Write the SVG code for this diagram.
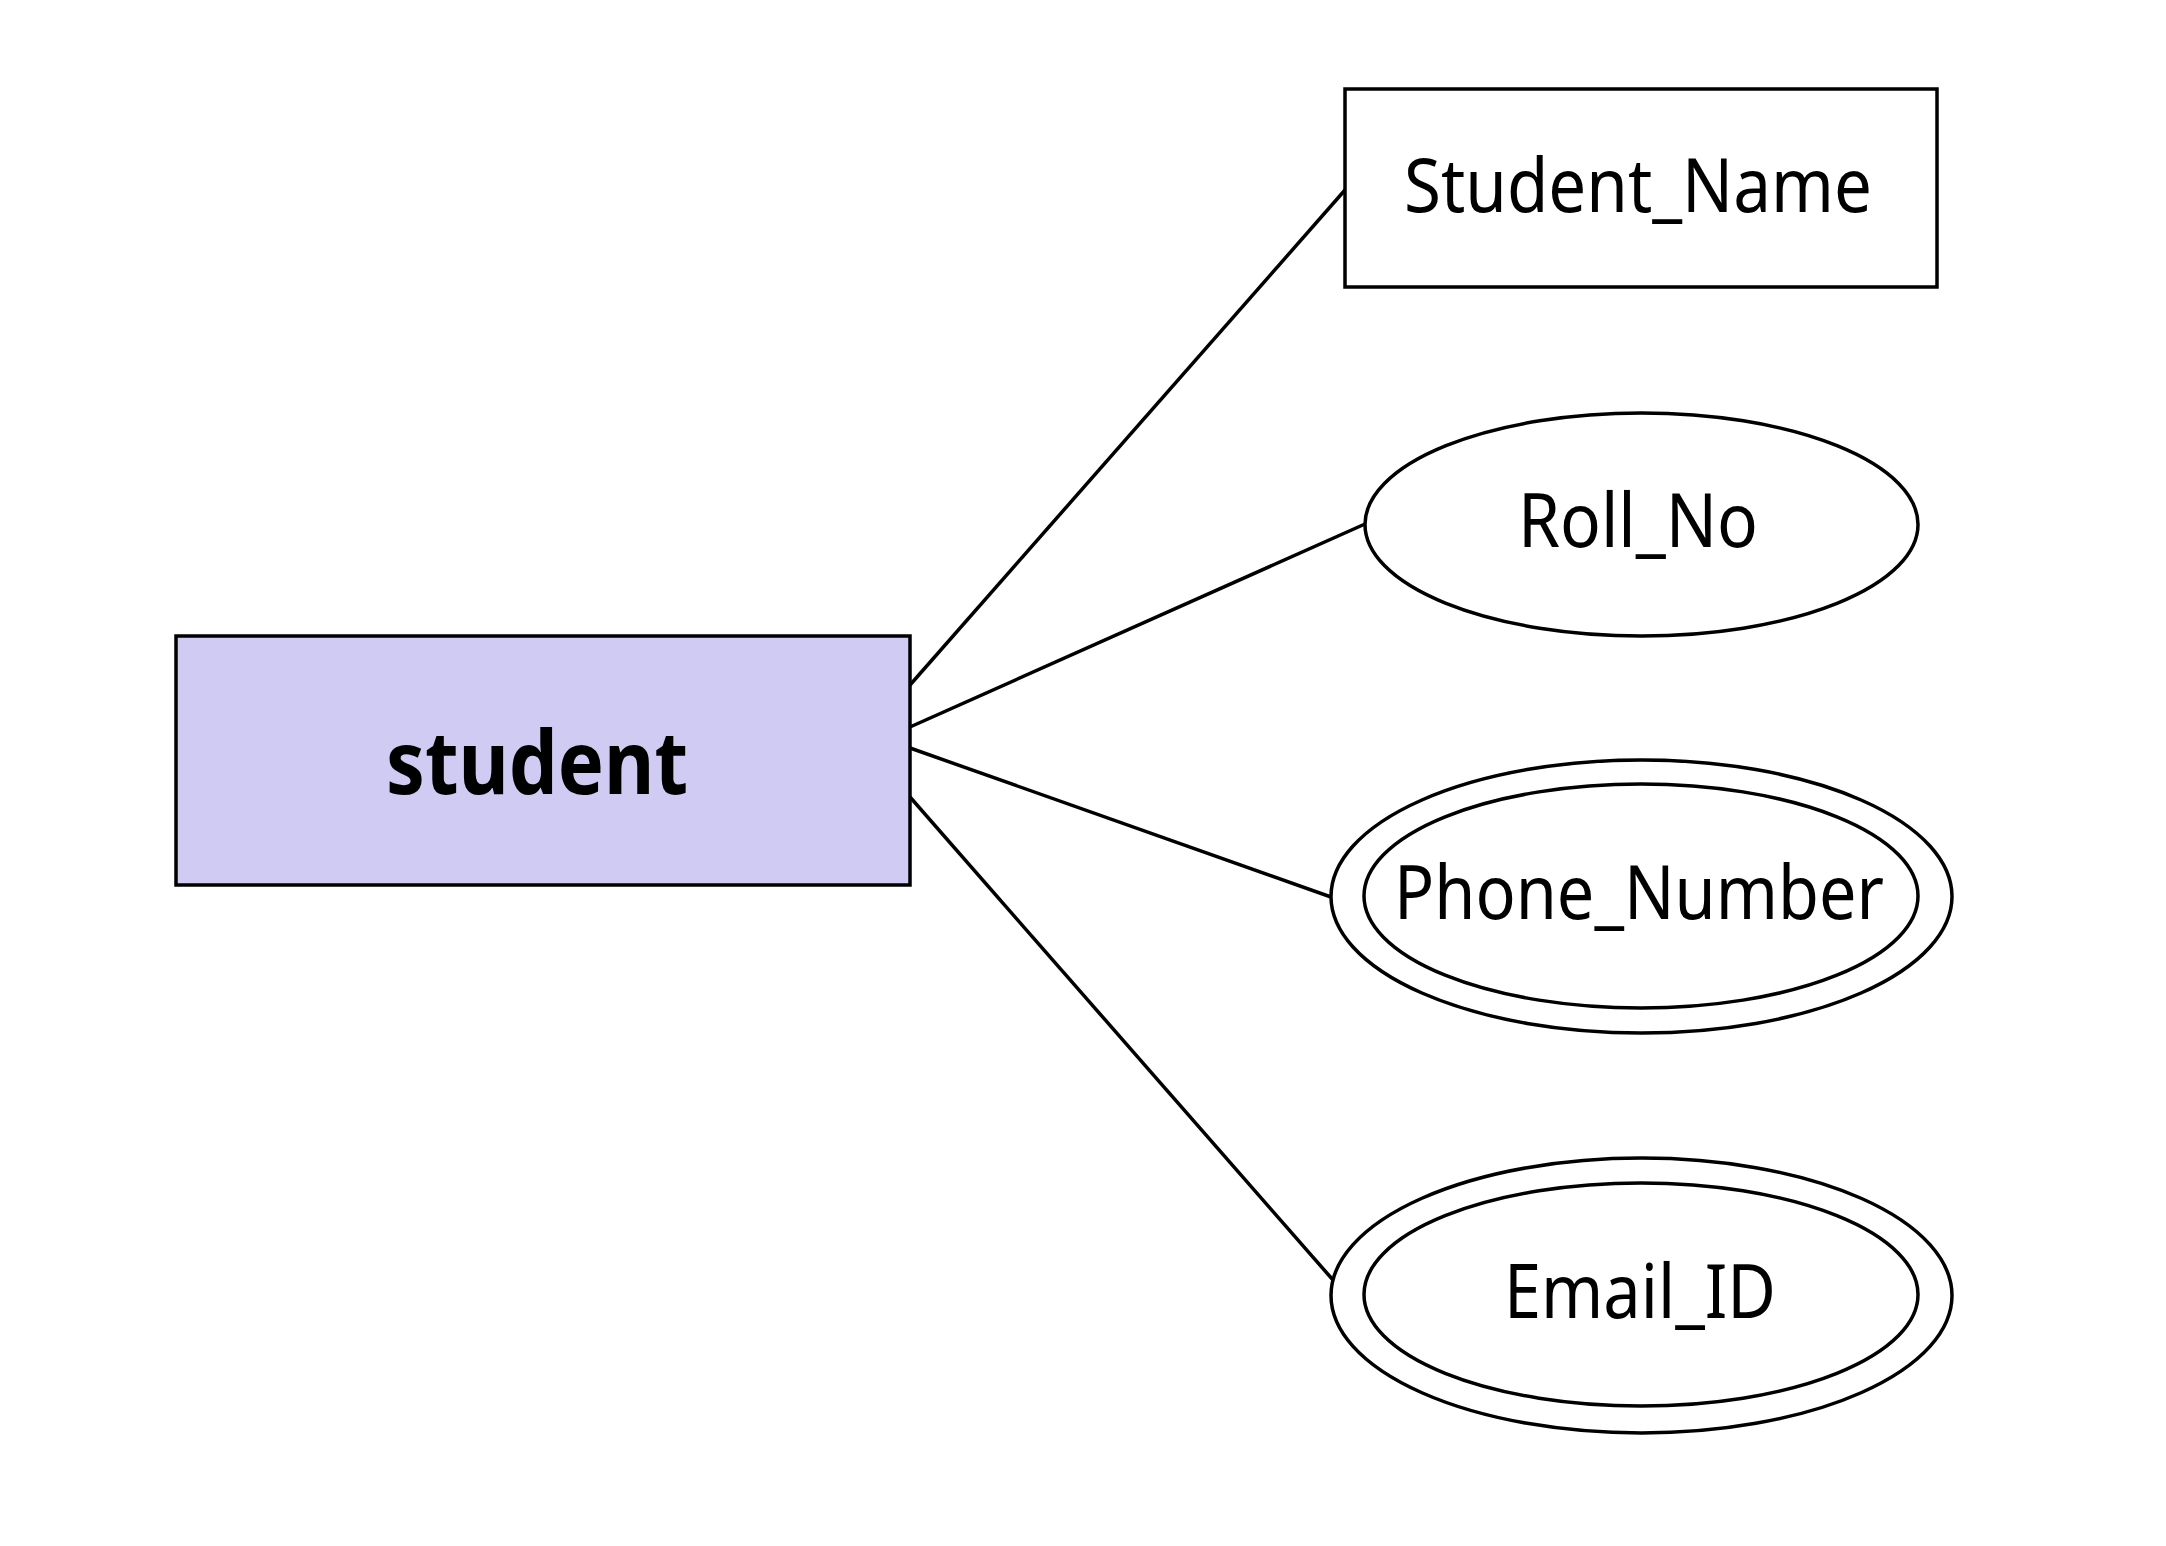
<svg xmlns="http://www.w3.org/2000/svg" width="2166" height="1546" viewBox="0 0 2166 1546">
<style>
.shape{fill:#ffffff;stroke:#000000;stroke-width:3.5}
.entity{fill:#cfcbf3;stroke:#000000;stroke-width:3.5}
.lbl{font-family:"Noto Sans","Open Sans",sans-serif;font-size:75px;fill:#000000}
.bold{font-weight:bold;font-size:87px}
.conn line{stroke:#000000;stroke-width:3.5}
</style>
<rect width="2166" height="1546" fill="#ffffff"/>
<g id="connectors" class="conn">
<line x1="910" y1="685" x2="1345" y2="190"/>
<line x1="910" y1="727" x2="1365" y2="524"/>
<line x1="910" y1="748" x2="1331" y2="897"/>
<line x1="910" y1="797" x2="1333" y2="1280"/>
</g>
<g id="student">
<rect class="entity" x="176" y="636" width="734" height="249"/>
<text class="lbl bold" x="386" y="794" textLength="302" lengthAdjust="spacingAndGlyphs">student</text>
</g>
<g id="student_name">
<rect class="shape" x="1345" y="89" width="592" height="198"/>
<text class="lbl" x="1404" y="212" textLength="468" lengthAdjust="spacingAndGlyphs">Student_Name</text>
</g>
<g id="roll_no">
<ellipse class="shape" cx="1641.5" cy="524.5" rx="276.5" ry="111.5"/>
<text class="lbl" x="1518" y="547" textLength="240" lengthAdjust="spacingAndGlyphs">Roll_No</text>
</g>
<g id="phone_number">
<ellipse class="shape" cx="1641.5" cy="896.5" rx="310.5" ry="136.5"/>
<ellipse class="shape" cx="1641" cy="896" rx="277" ry="112"/>
<text class="lbl" x="1394" y="919" textLength="490" lengthAdjust="spacingAndGlyphs">Phone_Number</text>
</g>
<g id="email_id">
<ellipse class="shape" cx="1641.5" cy="1295.5" rx="310.5" ry="137.5"/>
<ellipse class="shape" cx="1641" cy="1294.5" rx="277" ry="111.5"/>
<text class="lbl" x="1504" y="1318" textLength="272" lengthAdjust="spacingAndGlyphs">Email_ID</text>
</g>
</svg>
